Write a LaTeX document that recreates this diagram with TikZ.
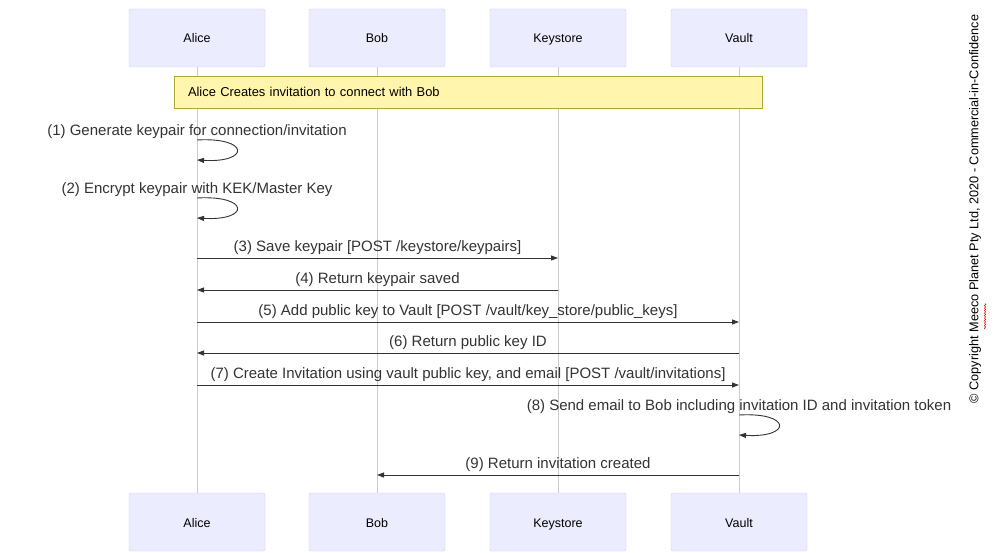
\documentclass[tikz,border=0pt]{standalone}
\usepackage{fontspec}
\setmainfont{Liberation Sans}
\usetikzlibrary{arrows.meta, decorations.pathmorphing}
\definecolor{actfill}{HTML}{ECECFF}
\definecolor{actline}{HTML}{CCCCFF}
\definecolor{notefill}{HTML}{FFF5AD}
\definecolor{noteline}{HTML}{AAAA33}
\definecolor{ink}{HTML}{333333}

\begin{document}
\begin{tikzpicture}[x=1pt, y=-1pt,
    actor/.style={draw=actline, fill=actfill, rounded corners=2pt, minimum width=136pt, minimum height=58pt, text height=11pt, text depth=1pt, font=\fontsize{12.5}{14}\selectfont},
    life/.style={draw=black!20, line width=0.7pt},
    msg/.style={draw=ink, line width=0.9pt, -{Triangle[length=7pt, width=5pt]}},
    lbl/.style={text=ink, inner sep=0pt, anchor=base, font=\fontsize{15}{17}\selectfont}]
    \fill[white] (0,0) rectangle (995,553);
    \useasboundingbox (0,0) rectangle (995,553);
    % actors with their lifelines
    \foreach \n/\t/\x in {alice/Alice/197, bob/Bob/377, keystore/Keystore/558, vault/Vault/739} {
        \node[actor] (\n Top) at (\x,38) {\t};
        \node[actor] (\n Bot) at (\x,522) {\t};
        \draw[life] (\n Top) -- (\n Bot);
    }
    \node[draw=noteline, fill=notefill, minimum height=32pt, inner xsep=14pt, text width=560pt, align=left, font=\fontsize{12.9}{15}\selectfont] (intro) at (468,92) {Alice Creates invitation to connect with Bob};
    % messages
    \draw[msg] (aliceTop |- 0,140) node[lbl, yshift=4.5pt] {(1) Generate keypair for connection/invitation}
        .. controls +(53,-3) and +(53,3) .. (aliceTop |- 0,160);
    \draw[msg] (aliceTop |- 0,198) node[lbl, yshift=4.5pt] {(2) Encrypt keypair with KEK/Master Key}
        .. controls +(53,-3) and +(53,3) .. (aliceTop |- 0,218);
    \draw[msg] (aliceTop |- 0,258) -- node[lbl, yshift=6.5pt] {(3) Save keypair [POST /keystore/keypairs]} (keystoreTop |- 0,258);
    \draw[msg] (keystoreTop |- 0,290) -- node[lbl, yshift=6.5pt] {(4) Return keypair saved} (aliceTop |- 0,290);
    \draw[msg] (aliceTop |- 0,322) -- node[lbl, yshift=6.5pt] {(5) Add public key to Vault [POST /vault/key\_store/public\_keys]} (vaultTop |- 0,322);
    \draw[msg] (vaultTop |- 0,353) -- node[lbl, yshift=6.5pt] {(6) Return public key ID} (aliceTop |- 0,353);
    \draw[msg] (aliceTop |- 0,385) -- node[lbl, yshift=6.5pt] {(7) Create Invitation using vault public key, and email [POST /vault/invitations]} (vaultTop |- 0,385);
    \draw[msg] (vaultTop |- 0,415) node[lbl, yshift=4.5pt] {(8) Send email to Bob including invitation ID and invitation token}
        .. controls +(53,-3) and +(53,3) .. (vaultTop |- 0,435);
    \draw[msg] (vaultTop |- 0,475) -- node[lbl, yshift=6.5pt] {(9) Return invitation created} (bobTop |- 0,475);
    % footer
    \node[rotate=90, font=\fontsize{12.7}{14}\selectfont] (copy) at (975,209) {© Copyright Meeco Planet Pty Ltd, 2020 - Commercial-in-Confidence};
    \draw[red, line width=0.5pt, decorate, decoration={snake, amplitude=0.7pt, segment length=2.5pt}] (985,329) -- (985,303);
\end{tikzpicture}
\end{document}
